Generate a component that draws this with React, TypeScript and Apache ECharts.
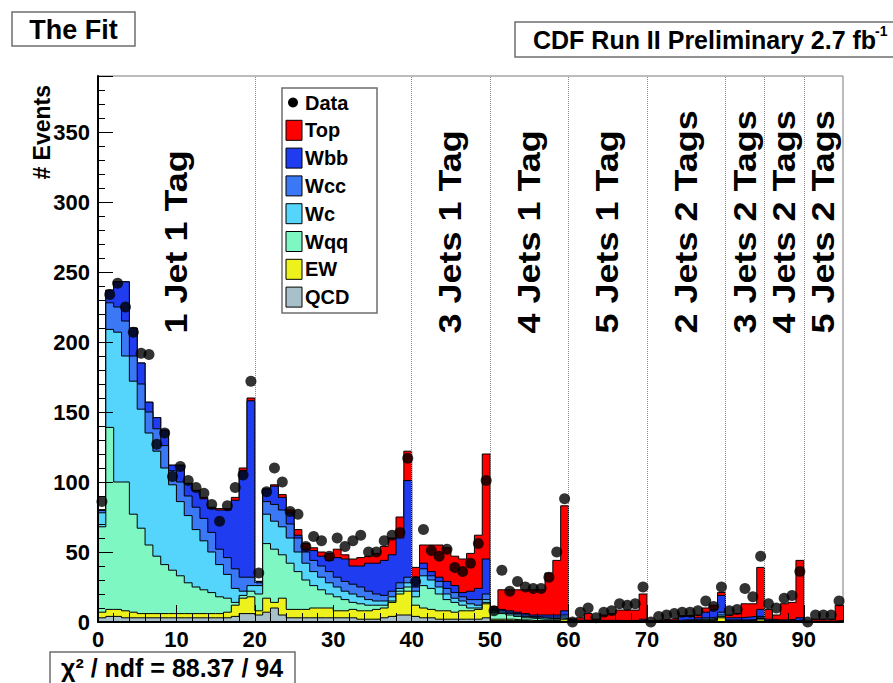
import React, { useEffect, useRef } from "react";
import * as echarts from "echarts";

// ---- histogram content: 95 bins of the discriminant, bin i spans [i, i+1] ----
const dataCounts = [
  86, 234, 242, 225, 207, 192, 191, 127, 135, 104, 111, 101, 96, 92, 84, 72, 83, 96, 105, 172,
  35, 93, 110, 100, 79, 77, 54, 61, 58, 47, 60, 54, 58, 62, 50, 50, 58, 62, 64, 117,
  29, 66, 51, 47, 52, 39, 36, 42, 56, 101,
  8, 37, 22, 29, 25, 24, 24, 32, 50, 88,
  0, 7, 10, 3, 7, 8, 13, 12, 13, 25,
  0, 4, 5, 6, 7, 7, 8, 15, 11, 25,
  8, 9, 24, 18, 47,
  13, 10, 17, 19, 36,
  0, 5, 5, 5, 15,
];

// Stacked totals (each array is the running sum from QCD up to that sample)
const stackTop = [
  80, 237, 243, 243, 210, 185, 157, 146, 137, 112, 112, 99, 94, 89, 82, 81, 81, 89, 110, 160,
  29, 95, 98, 91, 80, 66, 56, 53, 50, 49, 52, 48, 45, 46, 47, 49, 54, 60, 75, 122,
  39, 55, 55, 55, 53, 47, 45, 49, 62, 120,
  11, 23, 23, 23, 23, 23, 23, 35, 44, 83,
  2, 3, 6, 2, 5, 6, 8.5, 8.5, 8.5, 20,
  1, 1.5, 2, 2.5, 4.5, 5, 5, 10, 12, 21,
  5, 6, 13, 13, 39,
  9, 5, 13, 14, 44,
  0.8, 2, 2, 2, 12,
];
const stackWbb = [
  80, 237, 243, 243, 210, 185, 157, 146, 137, 112, 112, 99, 94, 88, 81, 80, 80, 87, 108, 158,
  29, 95, 97, 89, 78, 62, 52, 51, 47, 44, 46, 45, 40, 40, 42, 42, 44, 48, 60, 101,
  32, 42, 36, 32, 29, 26, 21, 22, 24, 45,
  10, 9, 8, 7, 6, 5, 5, 5, 5, 8,
  2, 1.3, 1.2, 1.2, 1.2, 1.2, 1.1, 1.1, 1.1, 2,
  0.5, 0.8, 1, 1.5, 4, 4, 3, 7, 9, 19,
  3, 3, 3.5, 4, 9,
  2, 1.5, 1.5, 2, 3,
  0.3, 0.6, 0.6, 0.6, 1,
];
const stackWcc = [
  80, 228, 225, 215, 190, 170, 150, 138, 126, 108, 100, 90, 82, 74, 64, 52, 46, 38, 32, 32,
  28, 86, 84, 80, 70, 60, 50, 44, 40, 36, 32, 29, 27, 25, 22, 20, 19, 22, 28, 32,
  25, 38, 33, 29, 24, 21, 18, 16, 16, 20,
  9, 8, 7, 6, 5, 4, 3.5, 3.5, 3.5, 5,
  1.6, 1, 0.9, 0.9, 0.9, 0.9, 0.8, 0.8, 0.8, 1.3,
  0.4, 0.6, 0.8, 1, 1.5, 1.6, 1.6, 3, 3.5, 7,
  1.5, 1.5, 1.5, 1.8, 4,
  1, 0.8, 0.8, 1, 1.5,
  0.2, 0.4, 0.4, 0.4, 0.7,
];
const stackWc = [
  78, 209, 207, 190, 172, 152, 135, 122, 110, 98, 86, 76, 66, 58, 50, 41, 34, 24, 22, 26,
  26, 77, 72, 68, 60, 50, 42, 36, 32, 28, 25, 22, 20, 18, 16, 15, 15, 18, 24, 28,
  22, 33, 30, 25, 20, 17, 15, 13, 12, 16,
  8, 7, 6, 5, 4, 3, 3, 2.5, 2.5, 3.5,
  1.3, 0.8, 0.7, 0.7, 0.7, 0.7, 0.6, 0.6, 0.6, 1,
  0.3, 0.5, 0.6, 0.7, 1, 1.1, 1.2, 2, 2.5, 5,
  1, 1, 1, 1.2, 3,
  0.8, 0.6, 0.6, 0.8, 1.2,
  0.15, 0.3, 0.3, 0.3, 0.5,
];
const stackWqq = [
  68, 139, 100, 100, 77, 67, 55, 47, 41, 37, 33, 28, 25, 23, 21, 18, 17, 14, 19, 22,
  20, 56, 52, 48, 42, 36, 30, 26, 23, 20, 18, 16, 14, 13, 12, 12, 12, 15, 22, 25,
  18, 26, 24, 20, 16, 14, 12, 10, 10, 14,
  7, 6, 5, 4, 3, 2.5, 2, 2, 2, 2.5,
  1, 0.6, 0.5, 0.5, 0.5, 0.5, 0.5, 0.5, 0.5, 0.8,
  0.2, 0.4, 0.4, 0.5, 0.6, 0.7, 0.8, 1.5, 1.8, 4,
  0.7, 0.7, 0.7, 0.8, 2.5,
  0.6, 0.5, 0.5, 0.6, 1,
  0.1, 0.2, 0.2, 0.2, 0.4,
];
const stackEW = [
  7, 9, 9, 8, 7, 6, 6, 6, 6, 6, 6, 6, 6, 6, 6, 6, 7, 12, 17, 18,
  8, 17, 14, 17, 9, 9, 9, 10, 10, 10, 8, 8, 9, 8, 8, 9, 10, 14, 20, 22,
  12, 10, 9, 8, 8, 7, 8, 8, 9, 13,
  2, 2, 2, 1.5, 1.5, 1, 1, 1, 1, 2,
  0.5, 0.3, 0.3, 0.3, 0.3, 0.3, 0.3, 0.3, 0.3, 0.5,
  0.1, 0.2, 0.2, 0.3, 0.3, 0.3, 0.4, 1, 1, 3,
  0.3, 0.3, 0.3, 0.4, 1.5,
  0.3, 0.3, 0.3, 0.3, 0.8,
  0.05, 0.1, 0.1, 0.1, 0.2,
];
const stackQCD = [
  3, 4, 4, 3, 3, 3, 3, 3, 3, 3, 3, 3, 3, 3, 3, 3, 3, 4, 6, 6,
  5, 7, 10, 5, 3, 3, 3, 3, 3, 3, 3, 3, 3, 2, 2, 2, 3, 4, 5, 5,
  4, 3, 3, 2, 2, 2, 2, 2, 2, 3,
  1, 1, 1, 1, 1, 0.5, 0.5, 0.5, 0.5, 0.5,
  0, 0, 0, 0, 0, 0, 0, 0, 0, 0,
  0, 0, 0, 0, 0, 0, 0, 0, 0, 0,
  0, 0, 0, 0, 0,
  0, 0, 0, 0, 0,
  0, 0, 0, 0, 0,
];

const sampleNames = ["Top", "Wbb", "Wcc", "Wc", "Wqq", "EW", "QCD"];
const sampleStacks = [stackTop, stackWbb, stackWcc, stackWc, stackWqq, stackEW, stackQCD];
const sampleColors = ["#ff0000", "#1f3cf0", "#3b78f6", "#55d4fc", "#7ef7c2", "#eef21c", "#a8c0c9"];

// Channel boundaries and their labels
const regionEdges = [20, 40, 50, 60, 70, 80, 85, 90];
const regionTitles = [
  "1 Jet 1 Tag", "3 Jets 1 Tag", "4 Jets 1 Tag", "5 Jets 1 Tag",
  "2 Jets 2 Tags", "3 Jets 2 Tags", "4 Jets 2 Tags", "5 Jets 2 Tags",
];
const regionCenters = [10, 45, 55, 65, 75, 82.5, 87.5, 92.5];
const regionLabelBase = 206;

const xMax = 95;
const yMax = 390;

const FONT = '"Liberation Sans", Arial, Helvetica, sans-serif';

// Histogram outline: a point at every lower bin edge, plus the closing edge
function stepPoints(values: number[]): number[][] {
  const pts = values.map((v, i) => [i, v]);
  pts.push([values.length, values[values.length - 1]]);
  return pts;
}

function buildOption(): echarts.EChartsOption {
  const histSeries = sampleNames.map((name, k) => ({
    type: "line" as const,
    name,
    data: stepPoints(sampleStacks[k]),
    step: "end" as const,
    showSymbol: false,
    silent: true,
    z: 2 + k,
    lineStyle: { color: "#000", width: 1 },
    itemStyle: { color: sampleColors[k] },
    areaStyle: { color: sampleColors[k], opacity: 1, origin: "start" as const },
  }));

  return {
    animation: false,
    backgroundColor: "#fff",
    grid: {
      left: 98,
      right: 50,
      top: 76,
      bottom: 61,
      show: true,
      borderColor: "#7a7a7a",
      borderWidth: 1,
      backgroundColor: "transparent",
    },
    xAxis: {
      type: "value",
      min: 0,
      max: xMax,
      interval: 10,
      z: 20,
      axisLine: { show: true, onZero: false, lineStyle: { color: "#000", width: 2 } },
      axisTick: { show: true, inside: true, length: 17, lineStyle: { color: "#000", width: 1 } },
      minorTick: { show: true, splitNumber: 5, length: 9, lineStyle: { color: "#000", width: 1 } },
      splitLine: { show: false },
      axisLabel: {
        showMaxLabel: false,
        margin: 6,
        color: "#000",
        fontFamily: FONT,
        fontWeight: "bold",
        fontSize: 22,
      },
    },
    yAxis: {
      type: "value",
      min: 0,
      max: yMax,
      interval: 50,
      z: 20,
      axisLine: { show: true, onZero: false, lineStyle: { color: "#000", width: 2 } },
      axisTick: { show: true, inside: true, length: 15, lineStyle: { color: "#000", width: 1 } },
      minorTick: { show: true, splitNumber: 5, length: 7, lineStyle: { color: "#000", width: 1 } },
      splitLine: { show: false },
      axisLabel: {
        showMaxLabel: false,
        margin: 8,
        color: "#000",
        fontFamily: FONT,
        fontWeight: "bold",
        fontSize: 22,
      },
    },
    series: [
      {
        type: "line",
        name: "edges",
        data: [],
        silent: true,
        z: 1,
        markLine: {
          silent: true,
          symbol: "none",
          label: { show: false },
          lineStyle: { color: "#8a8a8a", type: "dotted", width: 1 },
          data: regionEdges.map((e) => ({ xAxis: e })),
        },
      },
      ...histSeries,
      {
        type: "scatter",
        name: "Data",
        data: dataCounts.map((v, i) => [i + 0.5, v]),
        symbol: "circle",
        symbolSize: 11,
        silent: true,
        z: 30,
        itemStyle: { color: "#000" },
      },
    ],
  };
}

function boxedText(x: number, y: number, w: number, h: number) {
  return {
    type: "rect",
    shape: { x, y, width: w, height: h },
    style: { fill: "#fff", stroke: "#6e6e6e", lineWidth: 1.5 },
    z: 50,
  };
}

function staticGraphics(): any[] {
  const els: any[] = [];

  // Title boxes
  els.push(boxedText(12, 12, 123, 34));
  els.push({
    type: "text", x: 73.5, y: 29.5, z: 51,
    style: { text: "The Fit", font: `bold 27px ${FONT}`, fill: "#000", align: "center", verticalAlign: "middle" },
  });
  els.push(boxedText(515, 22, 390, 35));
  els.push({
    type: "text", x: 533, y: 40, z: 51,
    style: { text: "CDF Run II Preliminary 2.7 fb", font: `bold 25px ${FONT}`, fill: "#000", align: "left", verticalAlign: "middle" },
  });
  els.push({
    type: "text", x: 875, y: 31, z: 51,
    style: { text: "-1", font: `bold 14px ${FONT}`, fill: "#000", align: "left", verticalAlign: "middle" },
  });

  // Fit quality box
  els.push(boxedText(50, 652, 245, 40));
  els.push({
    type: "text", x: 61, y: 668, z: 51,
    style: { text: "χ² / ndf = 88.37 / 94", font: `bold 25px ${FONT}`, fill: "#000", align: "left", verticalAlign: "middle" },
  });

  // Y axis title
  els.push({
    type: "text", x: 42, y: 85, rotation: Math.PI / 2, z: 51,
    style: { text: "# Events", font: `bold 23px ${FONT}`, fill: "#000", align: "right", verticalAlign: "middle" },
  });

  // Legend
  const lx = 282;
  const ly = 88;
  els.push({
    type: "rect", z: 50,
    shape: { x: lx, y: ly, width: 95, height: 225 },
    style: { fill: "#fff", stroke: "#6e6e6e", lineWidth: 1.5 },
  });
  const rowY = (r: number) => 102.5 + r * 27.8;
  els.push({ type: "circle", z: 51, shape: { cx: 293, cy: rowY(0), r: 5 }, style: { fill: "#000" } });
  els.push({
    type: "text", x: 305, y: rowY(0), z: 51,
    style: { text: "Data", font: `bold 20px ${FONT}`, fill: "#000", align: "left", verticalAlign: "middle" },
  });
  sampleNames.forEach((name, k) => {
    const cy = rowY(k + 1);
    els.push({
      type: "rect", z: 51,
      shape: { x: 286, y: cy - 10, width: 16, height: 20 },
      style: { fill: sampleColors[k], stroke: "#000", lineWidth: 1 },
    });
    els.push({
      type: "text", x: 305, y: cy, z: 51,
      style: { text: name, font: `bold 20px ${FONT}`, fill: "#000", align: "left", verticalAlign: "middle" },
    });
  });

  return els;
}

export default function App() {
  const ref = useRef<HTMLDivElement>(null);

  useEffect(() => {
    if (!ref.current) return;
    const chart = echarts.init(ref.current, null, { renderer: "svg" });
    chart.setOption(buildOption());

    // Channel labels, anchored in data coordinates and reading upwards
    const channelLabels = regionTitles.map((title, i) => {
      const [px, py] = chart.convertToPixel({ gridIndex: 0 }, [regionCenters[i], regionLabelBase]) as number[];
      return {
        type: "text",
        x: px,
        y: py,
        rotation: Math.PI / 2,
        scaleY: 0.85,
        z: 40,
        style: { text: title, font: `bold 36px ${FONT}`, fill: "#000", align: "left", verticalAlign: "middle" },
      };
    });

    chart.setOption({ graphic: [...channelLabels, ...staticGraphics()] });
    return () => chart.dispose();
  }, []);

  return (
    <div
      ref={ref}
      style={{ position: "fixed", left: 0, top: 0, width: 893, height: 683, background: "#fff" }}
    />
  );
}
